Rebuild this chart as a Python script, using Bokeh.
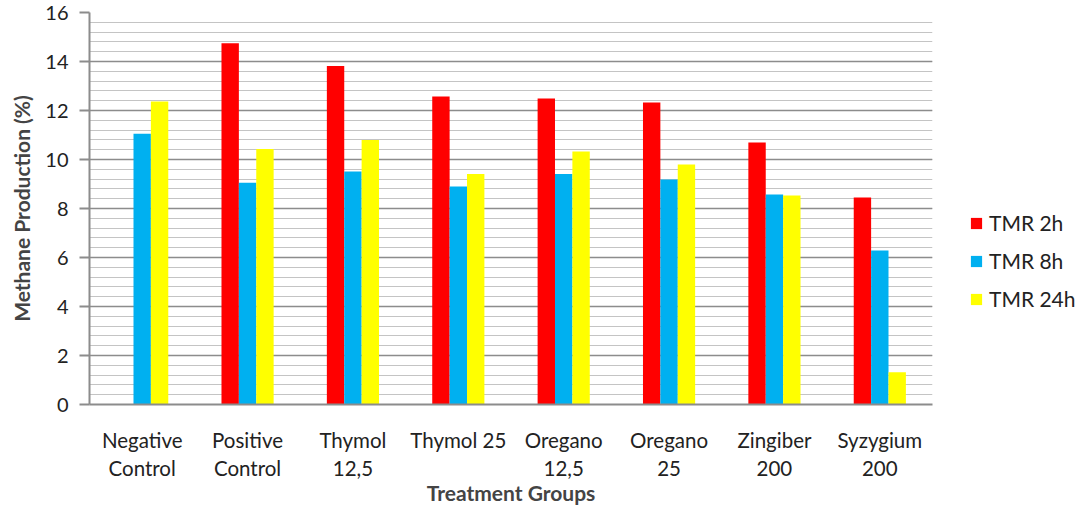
from bokeh.plotting import figure
from bokeh.models import (ColumnDataSource, Legend, LegendItem, SingleIntervalTicker, FactorRange)
from bokeh.transform import dodge
from bokeh.embed import file_html
from bokeh.resources import INLINE

categories = ["Negative\nControl", "Positive\nControl", "Thymol\n12,5", "Thymol 25",
              "Oregano\n12,5", "Oregano\n25", "Zingiber\n200", "Syzygium\n200"]
tmr_2h = [0.0, 14.75, 13.82, 12.57, 12.49, 12.33, 10.69, 8.45]
tmr_8h = [11.05, 9.05, 9.51, 8.90, 9.41, 9.18, 8.57, 6.29]
tmr_24h = [12.37, 10.43, 10.80, 9.41, 10.33, 9.80, 8.53, 1.32]
series_names = ["TMR 2h", "TMR 8h", "TMR 24h"]
colors = ["#FF0000", "#00B0F0", "#FFFF00"]

src = ColumnDataSource(data=dict(cat=categories, s2=tmr_2h, s8=tmr_8h, s24=tmr_24h))

FONT = "Lato"

p = figure(x_range=FactorRange(*categories), y_range=(0, 16),
           frame_width=843, frame_height=392,
           output_backend="svg", toolbar_location=None,
           min_border_left=89, min_border_right=0, min_border_top=12, min_border_bottom=100,
           background_fill_color="white", border_fill_color="white")
p.outline_line_color = None

bw = 0.165
r1 = p.vbar(x=dodge("cat", -bw, range=p.x_range), top="s2", width=bw, source=src,
            fill_color=colors[0], line_color=None)
r2 = p.vbar(x=dodge("cat", 0.0, range=p.x_range), top="s8", width=bw, source=src,
            fill_color=colors[1], line_color=None)
r3 = p.vbar(x=dodge("cat", bw, range=p.x_range), top="s24", width=bw, source=src,
            fill_color=colors[2], line_color=None)

# y axis
p.yaxis.ticker = SingleIntervalTicker(interval=2, num_minor_ticks=5)
p.yaxis.axis_label = "Methane Production (%)"
p.yaxis.axis_label_text_font = FONT
p.yaxis.axis_label_text_font_style = "bold"
p.yaxis.axis_label_text_font_size = "21px"
p.yaxis.axis_label_standoff = 8
p.yaxis.major_label_text_font = FONT
p.yaxis.major_label_text_font_size = "20px"
p.yaxis.major_label_text_color = "#222222"
p.yaxis.axis_line_color = "#8c8c8c"
p.yaxis.axis_line_width = 2
p.yaxis.major_tick_line_color = "#8c8c8c"
p.yaxis.major_tick_line_width = 2
p.yaxis.major_tick_out = 10
p.yaxis.major_tick_in = 0
p.yaxis.minor_tick_line_color = None
p.yaxis.major_label_standoff = 11

# x axis
p.xaxis.axis_label = "Treatment Groups"
p.xaxis.axis_label_text_font = FONT
p.xaxis.axis_label_text_font_style = "bold"
p.xaxis.axis_label_text_font_size = "21px"
p.xaxis.axis_label_standoff = -3
p.xaxis.major_label_text_font = FONT
p.xaxis.major_label_text_font_size = "20.5px"
p.xaxis.major_label_text_color = "#222222"
p.xaxis.major_label_standoff = 17
p.xaxis.axis_line_color = "#8c8c8c"
p.xaxis.axis_line_width = 2
p.xaxis.major_tick_line_color = None
p.xaxis.minor_tick_line_color = None

# grid
p.xgrid.grid_line_color = None
p.ygrid.grid_line_color = "#8c8c8c"
p.ygrid.grid_line_width = 1.5
p.ygrid.minor_grid_line_color = "#c4c4c4"
p.ygrid.minor_grid_line_width = 1

legend = Legend(items=[LegendItem(label=series_names[0], renderers=[r1]),
                       LegendItem(label=series_names[1], renderers=[r2]),
                       LegendItem(label=series_names[2], renderers=[r3])],
                location=(37, 93), orientation="vertical")
legend.label_text_font = FONT
legend.label_text_font_size = "21px"
legend.label_text_color = "#222222"
legend.glyph_width = 14
legend.glyph_height = 14
legend.label_height = 20
legend.spacing = 13
legend.padding = 0
legend.margin = 0
legend.label_standoff = 6
legend.border_line_color = None
legend.background_fill_alpha = 0
p.add_layout(legend, "right")

open("out.html", "w").write(file_html(p, INLINE))
